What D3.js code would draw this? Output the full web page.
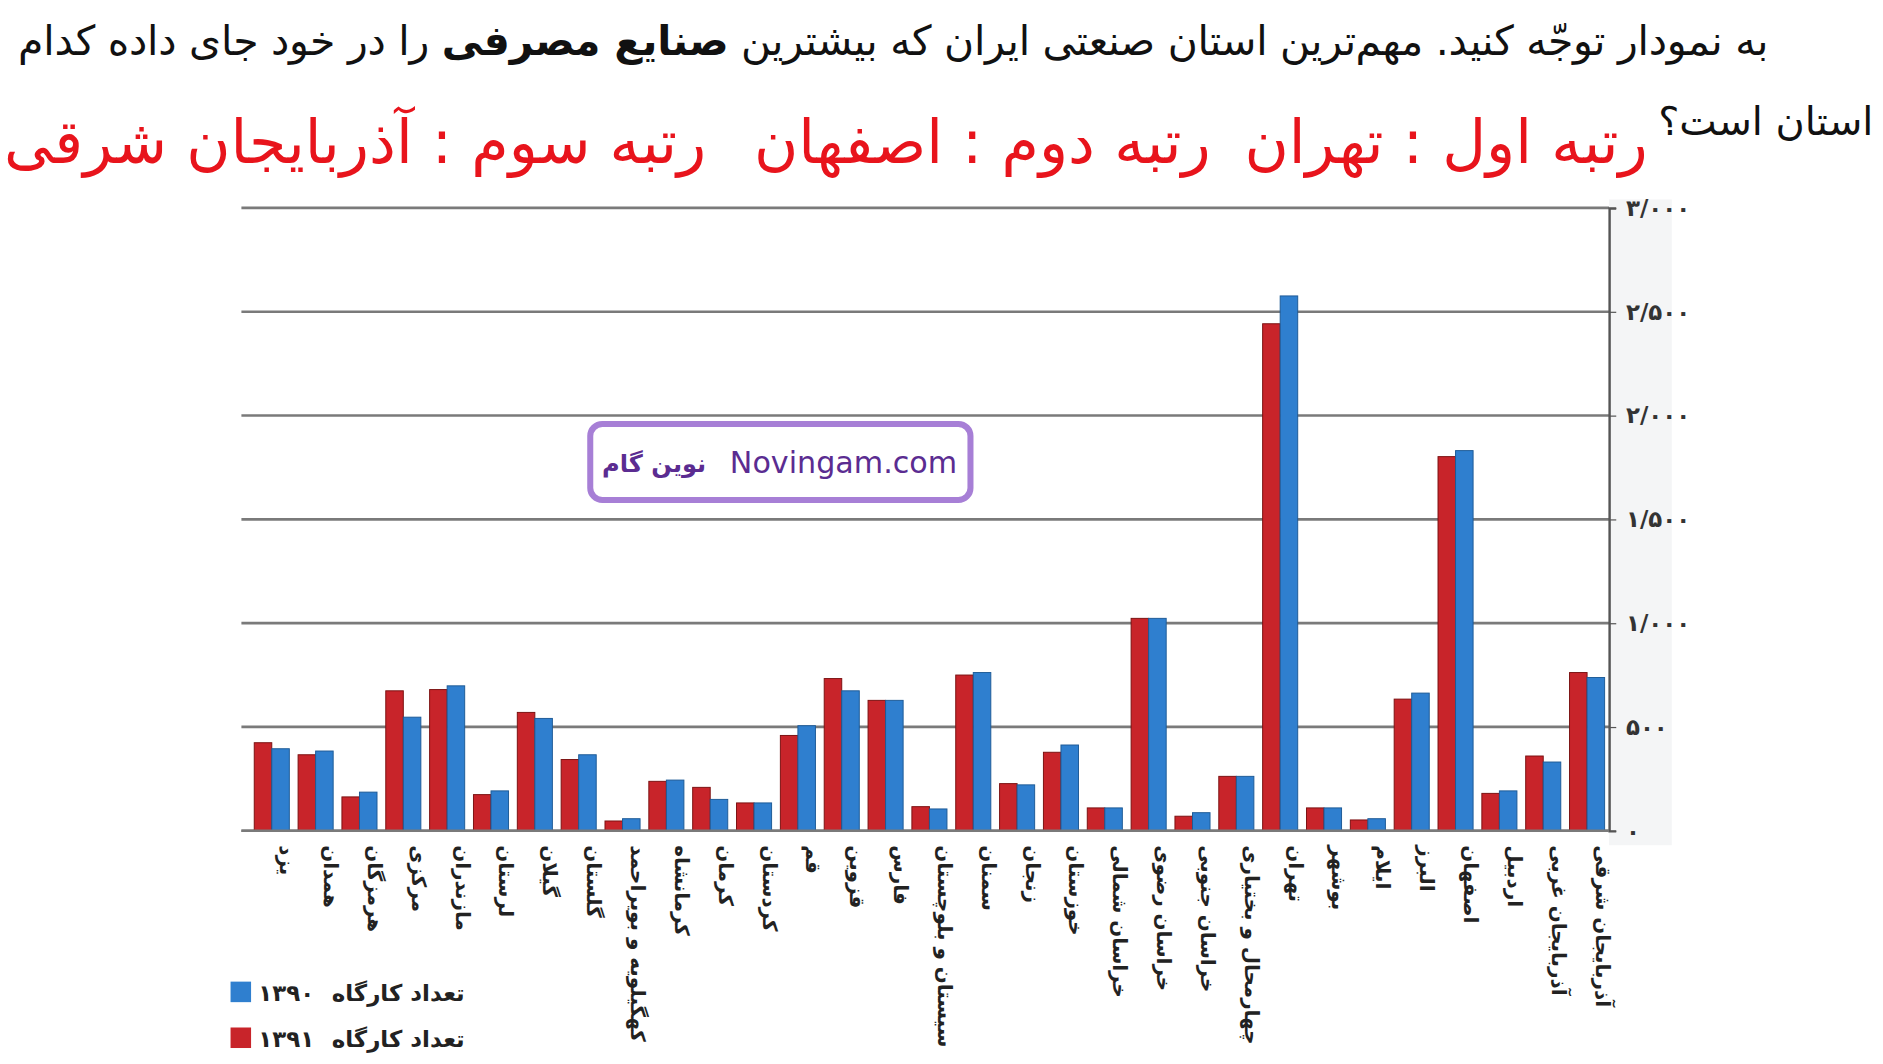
<!DOCTYPE html>
<html><head><meta charset="utf-8">
<script src="https://cdn.jsdelivr.net/npm/d3@7"></script>
<style>html,body{margin:0;padding:0;background:#fff;overflow:hidden}</style>
</head><body>
<svg id="c" width="1883" height="1064" viewBox="0 0 1560 881"></svg>
<script>
const provinces = ["یزد","همدان","هرمزگان","مرکزی","مازندران","لرستان","گیلان","گلستان","کهگیلویه و بویراحمد","کرمانشاه","کرمان","کردستان","قم","قزوین","فارس","سیستان و بلوچستان","سمنان","زنجان","خوزستان","خراسان شمالی","خراسان رضوی","خراسان جنوبی","چهارمحال و بختیاری","تهران","بوشهر","ایلام","البرز","اصفهان","اردبیل","آذربایجان غربی","آذربایجان شرقی"];
const values1391 = [424,366,163,674,680,174,570,343,47,238,209,134,459,733,628,116,750,227,378,110,1023,70,262,2442,110,52,634,1802,180,360,762];
const values1390 = [395,384,186,547,698,192,541,366,58,244,151,134,506,674,628,105,762,221,413,110,1023,87,262,2576,110,58,663,1831,192,331,738];
const yTicks = [0,500,1000,1500,2000,2500,3000];
const seriesNames = ["۱۳۹۰","۱۳۹۱"];
const ranks = [["رتبه اول : تهران",1365],["رتبه دوم : اصفهان",1003],["رتبه سوم : آذربایجان شرقی",585]];

const svg = d3.select("#c");
const FONT = "'DejaVu Sans','Noto Sans',sans-serif";
const fa = s => String(s).replace(/\d/g, d => "۰۱۲۳۴۵۶۷۸۹"[d]);
const fmt = v => v === 0 ? "۰" : fa(d3.format(",")(v)).replace(/,/g, "/");

const t1 = svg.append("text").attr("x",1465).attr("y",45).attr("direction","rtl").attr("text-anchor","start")
  .attr("font-family",FONT).attr("font-size",34).attr("fill","#111")
  .attr("textLength",1450).attr("lengthAdjust","spacing");
t1.append("tspan").text("به نمودار توجّه کنید. مهم‌ترین استان صنعتی ایران که بیشترین ");
t1.append("tspan").attr("font-weight","bold").text("صنایع مصرفی");
t1.append("tspan").text(" را در خود جای داده کدام");
svg.append("text").attr("x",1552).attr("y",112).attr("direction","rtl").attr("text-anchor","start")
  .attr("font-family",FONT).attr("font-size",33).attr("fill","#111").text("استان است؟");
svg.append("g").selectAll("text").data(ranks).join("text")
  .attr("x",d=>d[1]).attr("y",135).attr("direction","rtl").attr("text-anchor","start")
  .attr("font-family",FONT).attr("font-size",50).attr("fill","#e8141c").text(d=>d[0]);

const x0 = d3.scaleBand().domain(provinces).range([207,1333]).paddingInner(0.2).paddingOuter(0.1);
const x1 = d3.scaleBand().domain(["r","b"]).range([0,x0.bandwidth()]);
const y = d3.scaleLinear().domain([0,3000]).range([688,172]);

svg.append("rect").attr("x",1333).attr("y",165).attr("width",52).attr("height",535).attr("fill","#f4f5f6");

svg.append("g").selectAll("line").data(yTicks).join("line")
  .attr("x1",200).attr("x2",1333).attr("y1",d=>y(d)).attr("y2",d=>y(d))
  .attr("stroke","#7a7a7a").attr("stroke-width",2.2);

const ax = svg.append("g").attr("transform","translate(1333,0)")
  .call(d3.axisRight(y).tickValues(yTicks).tickSize(6).tickPadding(8).tickFormat(fmt));
ax.select(".domain").attr("stroke","#555").attr("stroke-width",2);
ax.selectAll("line").attr("stroke","#555");
ax.selectAll("text").attr("font-family",FONT).attr("font-size",19).attr("font-weight","bold").attr("fill","#333");

const g = svg.append("g").selectAll("g").data(provinces).join("g").attr("transform",d=>`translate(${x0(d)},0)`);
g.append("rect").attr("x",x1("r")).attr("width",x1.bandwidth())
  .attr("y",(d,i)=>y(values1391[i])).attr("height",(d,i)=>y(0)-y(values1391[i]))
  .attr("fill","#c8242a").attr("stroke","#7a1010").attr("stroke-width",0.8);
g.append("rect").attr("x",x1("b")).attr("width",x1.bandwidth())
  .attr("y",(d,i)=>y(values1390[i])).attr("height",(d,i)=>y(0)-y(values1390[i]))
  .attr("fill","#2f7fcf").attr("stroke","#1d5a96").attr("stroke-width",0.8);

svg.append("line").attr("x1",200).attr("x2",1333).attr("y1",y(0)).attr("y2",y(0)).attr("stroke","#7a7a7a").attr("stroke-width",2.2);

svg.append("g").selectAll("text").data(provinces).join("text")
  .attr("transform",d=>`translate(${x0(d)+x0.bandwidth()/2+7},700) rotate(90)`)
  .attr("direction","rtl").attr("text-anchor","end")
  .attr("font-family",FONT).attr("font-size",16.5).attr("font-weight","bold").attr("fill","#222").text(d=>d);

svg.append("rect").attr("x",489).attr("y",351).attr("width",315).attr("height",63).attr("rx",10)
  .attr("fill","#fff").attr("stroke","#a77fd6").attr("stroke-width",5);
svg.append("text").attr("x",793).attr("y",392).attr("text-anchor","end").attr("font-family",FONT)
  .attr("font-size",25).attr("fill","#5b2c91").text("Novingam.com");
svg.append("text").attr("x",585).attr("y",391).attr("direction","rtl").attr("text-anchor","start").attr("font-family",FONT)
  .attr("font-size",20).attr("font-weight","bold").attr("fill","#5b2c91").text("نوین گام");

const leg = [{c:"#2f7fcf",n:seriesNames[0],y:822},{c:"#c8242a",n:seriesNames[1],y:860}];
const lg = svg.append("g").selectAll("g").data(leg).join("g").attr("transform",d=>`translate(0,${d.y})`);
lg.append("rect").attr("x",191).attr("y",-9).attr("width",17).attr("height",17).attr("fill",d=>d.c);
lg.append("text").attr("x",214).attr("y",7).attr("font-family",FONT).attr("font-size",19).attr("font-weight","bold").attr("fill","#222").text(d=>d.n);
lg.append("text").attr("x",385).attr("y",7).attr("direction","rtl").attr("text-anchor","start").attr("font-family",FONT).attr("font-size",19).attr("font-weight","bold").attr("fill","#222").text("تعداد کارگاه");
</script>
</body></html>
